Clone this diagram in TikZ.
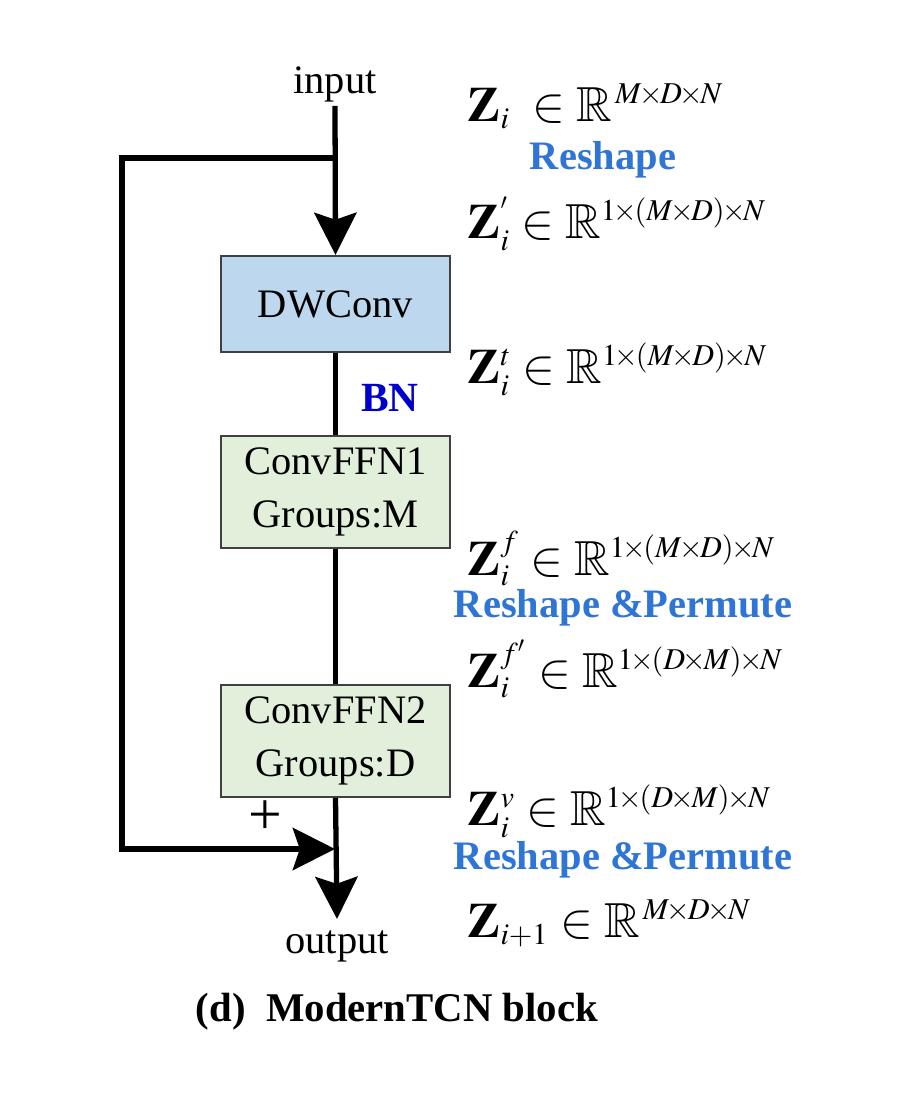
\documentclass[tikz,border=0pt]{standalone}
\usepackage{amssymb}
\usepackage{mathptmx}
\usepackage[no-math]{fontspec}
\setmainfont{Liberation Serif}
\usetikzlibrary{arrows.meta, positioning}

\definecolor{dwblue}{RGB}{189,215,238}
\definecolor{ffngreen}{RGB}{226,239,218}
\definecolor{opblue}{RGB}{46,117,214}
\definecolor{bnblue}{RGB}{0,0,204}

\DeclareMathSizes{14}{14}{8.6}{6.5}
\newcommand{\tx}{\mkern-1.5mu{\times}\mkern-1.5mu}

\tikzset{
  block/.style={draw=black!75, line width=0.6pt, minimum width=2.29cm, align=center, font=\fontsize{11.5}{15}\selectfont},
  wire/.style={line width=1.5pt},
  bigarrow/.style={-{Stealth[length=12pt, width=12pt, inset=2pt]}},
  lbl/.style={inner sep=1pt, font=\fontsize{11.5}{14}\selectfont},
  tensor/.style={anchor=base west, inner sep=0pt, font=\fontsize{14}{16}\selectfont},
  op/.style={inner sep=0pt, text=opblue, font=\fontsize{11.5}{14}\selectfont\bfseries},
}

\begin{document}
\begin{tikzpicture}[x=0.01cm, y=-0.01cm]
\useasboundingbox (0,0) rectangle (900,1100);

\node[lbl, anchor=base] (input) at (335,93) {input};
\node[block, fill=dwblue, minimum height=0.96cm] (dw) at (335.5,304) {DWConv};
\node[block, fill=ffngreen, minimum height=1.1cm] (ffn1) at (335.5,492) {ConvFFN1\\Groups:M};
\node[block, fill=ffngreen, minimum height=1.1cm] (ffn2) at (335.5,741) {ConvFFN2\\Groups:D};
\node[lbl, anchor=base, inner sep=3pt] (output) at (337,953) {output};

\coordinate (split) at (335,158);
\coordinate (skipup) at (122,158);
\coordinate (skipdown) at (122,849);
\coordinate (join) at (335,849);

\draw[wire, bigarrow] (input.south) -- (dw.north);
\draw[wire] (dw.south) -- (ffn1.north);
\draw[wire] (ffn1.south) -- (ffn2.north);
\draw[wire, bigarrow] (ffn2.south) -- (output.north);
\draw[wire, bigarrow] (split) -- (skipup) -- (skipdown) -- (join);

\node[lbl, font=\fontsize{17}{18}\selectfont] (plus) at (265,818) {+};
\node[text=bnblue, font=\fontsize{11.8}{14}\selectfont\bfseries] (bn) at (390,398) {BN};

% tensor shapes
\node[tensor] (z0) at (467,121) {$\mathbf{Z}_{i}\;\in\mathbb{R}^{\,M\tx D\tx N}$};
\node[op] (reshape) at (603,160) {Reshape};
\node[tensor] (z1) at (467,238) {$\mathbf{Z}_{i}^{'}\in\mathbb{R}^{1\tx(M\tx D)\tx N}$};
\node[tensor] (zt) at (467,383) {$\mathbf{Z}_{i}^{t}\in\mathbb{R}^{1\tx(M\tx D)\tx N}$};
\node[tensor] (zf) at (467,575) {$\mathbf{Z}_{i}^{f}\in\mathbb{R}^{1\tx(M\tx D)\tx N}$};
\node[op] (permute1) at (623,608) {Reshape \&Permute};
\node[tensor] (zf1) at (467,687) {$\mathbf{Z}_{i}^{f'}\in\mathbb{R}^{1\tx(D\tx M)\tx N}$};
\node[tensor] (zv) at (467,825) {$\mathbf{Z}_{i}^{v}\in\mathbb{R}^{1\tx(D\tx M)\tx N}$};
\node[op] (permute2) at (623,860) {Reshape \&Permute};
\node[tensor] (znext) at (467,937) {$\mathbf{Z}_{i+1}\in\mathbb{R}^{\,M\tx D\tx N}$};

\node[font=\fontsize{11.6}{14}\selectfont\bfseries] (caption) at (397,1012) {(d)\ \ ModernTCN block};
\end{tikzpicture}
\end{document}
